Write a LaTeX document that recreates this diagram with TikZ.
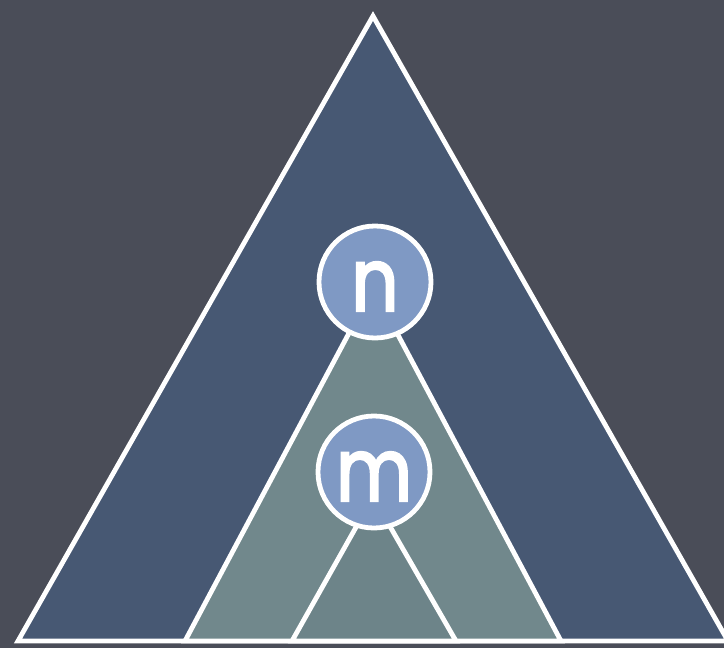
\documentclass[tikz,border=0pt]{standalone}
\usepackage{fontspec}
\setmainfont{Poppins}
\newfontfamily\labelfont[FakeBold=2.5, FakeStretch=0.84]{Poppins}
\definecolor{slate}{RGB}{74,77,88}
\definecolor{treeblue}{RGB}{71,88,115}
\definecolor{subgreen}{RGB}{113,136,140}
\definecolor{leafgreen}{RGB}{109,132,137}
\definecolor{nodeblue}{RGB}{127,153,196}
\begin{document}
\begin{tikzpicture}[x=1pt, y=-1pt, line width=4.8pt,
    treenode/.style={circle, draw=white, fill=nodeblue, minimum size=112pt, inner sep=0pt,
        text=white, text height=58pt, text depth=0pt, font=\fontsize{88}{88}\labelfont}]
    \useasboundingbox (0,0) rectangle (724,648);
    \fill[slate] (0,0) rectangle (724,648);

    % Whole tree
    \filldraw[draw=white, fill=treeblue] (373,16) -- (18,641) -- (728,641) -- cycle;

    % Subtree below n
    \filldraw[draw=white, fill=subgreen] (373,288) -- (185,641) -- (561,641) -- cycle;

    % Subtree below m
    \filldraw[draw=white, fill=leafgreen] (373,497) -- (292,641) -- (456,641) -- cycle;

    % Nodes
    \node[treenode] (n) at (375,282) {n};
    \node[treenode] (m) at (374,472) {m};
\end{tikzpicture}
\end{document}
